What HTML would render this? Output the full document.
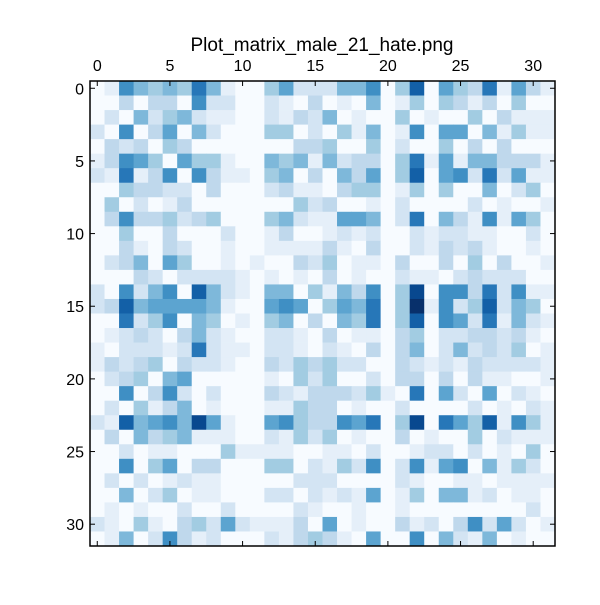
<!DOCTYPE html>
<html><head><meta charset="utf-8"><style>
body{margin:0;background:#fff;width:600px;height:600px;overflow:hidden}
svg text{font-family:"Liberation Sans",sans-serif}
</style></head><body>
<svg id="chart" width="600" height="600" xmlns="http://www.w3.org/2000/svg">
<rect width="600" height="600" fill="#fff"/>
<text x="322" y="51" font-size="19" text-anchor="middle">Plot_matrix_male_21_hate.png</text>
<g id="cells"></g>
<g id="axes"></g>
</svg>
<script>
const rowLabels = ["0","5","10","15","20","25","30"];
const colLabels = ["0","5","10","15","20","25","30"];
const tickValues = [0,5,10,15,20,25,30];
const maxValue = 11;
const rows = [
[0,1,7,5,4,5,4,8,5,1,0,0,4,6,2,2,2,5,5,7,0,4,9,0,6,4,3,8,1,6,3,1],
[0,0,3,0,3,3,0,7,2,2,0,0,2,1,0,3,0,1,0,5,0,1,4,0,4,3,1,3,0,4,0,0],
[0,2,0,5,2,4,5,2,1,1,0,0,2,1,3,2,5,0,1,0,0,4,0,1,0,0,4,0,3,1,1,1],
[2,0,7,0,3,6,0,5,2,0,0,0,4,4,0,2,0,4,1,5,0,1,7,0,6,6,0,5,1,4,1,1],
[0,3,2,3,0,4,3,0,0,0,0,0,0,0,3,3,4,0,0,4,0,2,0,0,4,0,3,0,3,0,0,0],
[1,3,7,6,4,0,6,4,4,1,0,0,5,4,5,1,5,2,3,3,0,4,8,1,6,1,5,5,3,3,3,1],
[2,1,8,1,3,7,0,7,3,1,1,0,4,5,0,3,0,5,3,6,0,4,9,0,6,7,2,8,2,6,1,1],
[0,0,4,3,3,2,2,0,3,0,0,0,2,3,1,1,0,3,4,4,0,1,4,0,4,0,0,5,0,2,4,0],
[0,4,0,2,0,1,3,0,0,0,0,0,0,0,4,2,3,0,0,1,0,2,0,0,0,0,2,0,1,0,0,1],
[0,3,7,3,3,4,2,3,4,0,0,0,4,5,2,1,1,6,6,5,0,2,8,0,5,3,1,7,1,6,4,0],
[0,0,4,0,0,3,0,0,0,2,0,0,1,3,0,0,1,2,1,2,0,0,2,1,2,2,1,1,0,0,2,0],
[0,0,3,1,0,3,2,0,0,1,0,0,1,1,1,1,3,1,0,3,0,0,2,1,3,2,3,1,0,0,1,0],
[0,2,3,5,0,6,4,0,0,1,0,1,0,0,3,2,4,0,1,1,0,3,0,0,3,0,4,0,3,0,0,1],
[0,0,0,3,2,0,2,2,2,2,1,0,1,0,1,0,3,0,1,0,0,2,1,1,0,2,3,2,2,2,0,0],
[2,0,7,2,5,7,0,9,5,2,1,0,5,5,0,4,1,5,3,7,0,4,10,0,7,7,3,8,2,7,1,1],
[2,3,9,5,6,6,6,6,5,1,0,0,6,7,6,0,4,6,5,8,0,4,11,1,7,2,4,9,2,5,4,0],
[0,0,8,2,4,7,0,5,4,0,1,0,4,5,0,3,0,5,4,8,0,4,9,0,7,6,2,8,1,5,2,1],
[0,1,2,3,2,0,3,5,2,1,0,0,2,2,1,0,3,0,1,1,0,3,4,0,2,2,3,3,2,3,1,0],
[1,0,2,2,2,1,2,8,2,1,1,0,2,2,1,0,2,1,0,3,0,3,5,0,2,5,2,3,2,4,0,1],
[1,3,2,3,4,0,3,2,2,1,0,0,3,2,4,3,4,2,2,0,0,3,2,1,2,1,3,2,2,2,2,1],
[0,2,3,4,0,5,6,0,0,0,0,0,1,0,4,2,4,0,0,2,0,3,3,0,3,0,3,1,1,0,0,1],
[0,0,7,0,3,7,2,0,2,0,0,0,3,2,1,3,3,3,2,4,1,0,8,0,6,2,0,6,0,2,1,0],
[0,2,0,4,1,3,5,0,1,0,0,0,1,1,4,3,3,0,1,0,0,2,0,0,0,0,2,0,1,0,2,1],
[2,1,9,5,6,7,5,10,6,1,0,0,6,7,4,3,3,7,6,8,0,4,10,0,8,6,4,9,1,7,4,1],
[0,3,0,5,3,4,5,1,1,1,0,0,2,1,4,2,4,0,1,0,0,3,0,1,0,0,4,0,2,1,1,1],
[0,0,2,0,1,1,0,0,0,4,1,1,1,1,0,0,1,1,0,2,0,0,1,2,2,0,2,0,1,0,4,0],
[0,0,7,0,4,6,0,3,3,0,0,0,4,4,0,2,1,4,2,7,0,2,7,1,6,7,0,5,1,4,2,0],
[0,2,0,2,0,1,2,1,1,0,0,0,0,0,2,2,2,0,0,0,0,2,1,0,0,1,1,0,1,1,1,1],
[0,0,5,0,2,4,0,1,1,0,0,0,2,2,0,2,1,2,1,6,0,1,4,0,5,5,1,2,0,1,1,0],
[0,1,0,1,0,0,2,0,0,2,0,0,0,0,2,1,0,0,1,0,0,1,0,0,0,0,0,0,0,0,2,0],
[2,1,0,4,1,0,3,4,2,6,2,1,1,1,3,0,6,0,1,0,0,3,1,2,0,3,7,2,6,2,0,1],
[0,1,5,0,2,7,3,1,2,0,0,0,2,1,3,4,3,1,0,6,0,0,7,0,5,2,1,5,0,1,0,0]
];
</script>
<script>
const x0=90,y0=81,W=465,H=465,N=32,cw=W/N,ch=H/N;
function xPos(c){return x0+c*cw;}
function yPos(r){return y0+r*ch;}
const stops=["#f7fbff","#deebf7","#c6dbef","#9ecae1","#6baed6","#4292c6","#2171b5","#08519c","#08306b"];
function hex(h){return [1,3,5].map(i=>parseInt(h.substr(i,2),16));}
function color(v){
  let t=Math.max(0,Math.min(1,v/maxValue))*(stops.length-1);
  let i=Math.min(Math.floor(t),stops.length-2),f=t-i;
  let a=hex(stops[i]),b=hex(stops[i+1]);
  return "rgb("+a.map((x,k)=>Math.round(x+(b[k]-x)*f)).join(",")+")";
}
const NS="http://www.w3.org/2000/svg";
const g=document.getElementById("cells");
for(let r=0;r<rows.length;r++){
  for(let c=0;c<rows[r].length;c++){
    const el=document.createElementNS(NS,"rect");
    
    
    el.setAttribute("x",xPos(c));el.setAttribute("y",yPos(r));
    el.setAttribute("width",cw+0.4);el.setAttribute("height",ch+0.4);
    el.setAttribute("fill",color(rows[r][c]));
    g.appendChild(el);
  }
}
const ax=document.getElementById("axes");
function add(tag,attrs,txt){
  const el=document.createElementNS(NS,tag);
  for(const k in attrs) el.setAttribute(k,attrs[k]);
  if(txt!==undefined) el.textContent=txt;
  ax.appendChild(el);return el;
}
const frame=add("rect",{x:x0,y:y0,width:W,height:H,fill:"none",stroke:"#000","stroke-width":1.5});


tickValues.forEach((v,i)=>{
  const cx=xPos(v+0.5), cy=yPos(v+0.5);
  [[cx,y0,cx,y0+5],[cx,y0+H,cx,y0+H-5],[x0,cy,x0+5,cy],[x0+W,cy,x0+W-5,cy]].forEach(p=>{
    const t=add("line",{x1:p[0],y1:p[1],x2:p[2],y2:p[3],stroke:"#000","stroke-width":1});
    
    
  });
  const xl=add("text",{x:cx,y:71,"font-size":16,"text-anchor":"middle"},colLabels[i]);
  
  
  const yl=add("text",{x:x0-6,y:cy+6,"font-size":16,"text-anchor":"end"},rowLabels[i]);
  
  
});
</script>
</body></html>
